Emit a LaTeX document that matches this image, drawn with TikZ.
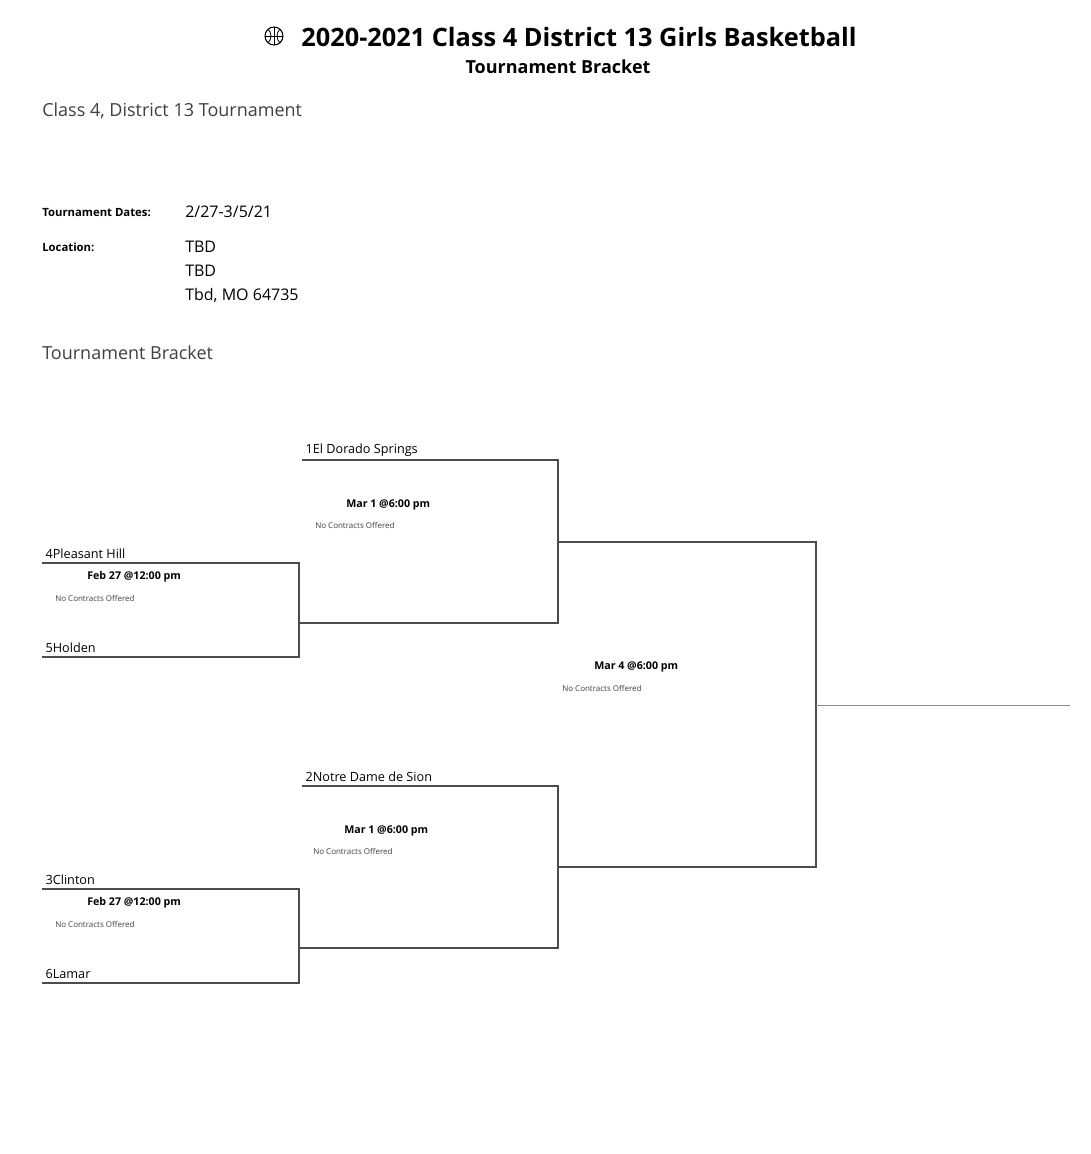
\documentclass[tikz,border=0pt]{standalone}
\usepackage{fontspec}
\setmainfont{Open Sans}
\begin{document}
\begin{tikzpicture}[x=0.75pt,y=-0.75pt,
  ln/.style={draw=black!70,line width=0.9pt},
  team/.style={anchor=south west,font=\fontsize{9.5}{10}\selectfont,inner sep=1pt},
  when/.style={anchor=west,font=\fontsize{8}{9}\selectfont\bfseries,inner sep=0pt},
  nc/.style={anchor=west,font=\fontsize{6}{7}\selectfont,text=black!75,inner sep=0pt},
  lab/.style={anchor=west,font=\fontsize{8.5}{10}\selectfont\bfseries,inner sep=0pt},
  val/.style={anchor=west,font=\fontsize{12}{13}\selectfont,inner sep=0pt},
  sec/.style={anchor=west,font=\fontsize{13.5}{15}\selectfont,text=black!75,inner sep=0pt}]
\useasboundingbox[fill=white] (0,0) rectangle (1090,1154);
% title
\node[font=\fontsize{19}{21}\selectfont\bfseries] (title) at (579,37) {2020-2021 Class 4 District 13 Girls Basketball};
\node[font=\fontsize{13.5}{15}\selectfont\bfseries] (sub) at (558,67) {Tournament Bracket};
\draw[line width=0.8pt] (274,36) circle (9);
\draw[line width=0.6pt] (265,36) -- (283,36) (274,27) -- (274,45);
\draw[line width=0.6pt] (268,29) .. controls (272,33) and (272,39) .. (268,43);
\draw[line width=0.6pt] (280,29) .. controls (276,33) and (276,39) .. (280,43);
\node[sec] (t1) at (42,111) {Class 4, District 13 Tournament};
\node[lab] (d1) at (42,213) {Tournament Dates:};
\node[val] (d2) at (185,212) {2/27-3/5/21};
\node[lab] (l1) at (42,247) {Location:};
\node[val] (l2) at (185,247) {TBD};
\node[val] (l3) at (185,271) {TBD};
\node[val] (l4) at (185,295) {Tbd, MO 64735};
\node[sec] (t2) at (42,353) {Tournament Bracket};
% coordinates
\coordinate (a1) at (42,563); \coordinate (a2) at (299,563);
\coordinate (b1) at (42,657); \coordinate (b2) at (299,657);
\coordinate (c1) at (299,623); \coordinate (c2) at (558,623);
\coordinate (e1) at (302,460); \coordinate (e2) at (558,460);
\coordinate (f1) at (558,542); \coordinate (f2) at (816,542);
\coordinate (g1) at (42,889); \coordinate (g2) at (299,889);
\coordinate (h1) at (42,983); \coordinate (h2) at (299,983);
\coordinate (i1) at (299,948); \coordinate (i2) at (558,948);
\coordinate (j1) at (302,786); \coordinate (j2) at (558,786);
\coordinate (k1) at (558,867); \coordinate (k2) at (816,867);
\coordinate (m1) at (816,705); \coordinate (m2) at (1070,705);
\draw[ln] (a1) -- (a2) -- (b2) -- (b1);
\draw[ln] (c1) -- (c2) -- (e2) -- (e1);
\draw[ln] (f1) -- (f2) -- (k2) -- (k1);
\draw[ln] (g1) -- (g2) -- (h2) -- (h1);
\draw[ln] (i1) -- (i2) -- (j2) -- (j1);
\draw[draw=black!45,line width=0.6pt] (m1) -- (m2);
% labels
\node[team] (n1) at (304,458) {1El Dorado Springs};
\node[team] (n4) at (44,560) {4Pleasant Hill};
\node[team] (n5) at (44,654) {5Holden};
\node[team] (n2) at (304,783) {2Notre Dame de Sion};
\node[team] (n3) at (44,886) {3Clinton};
\node[team] (n6) at (44,980) {6Lamar};
\node[when] (w1) at (346,505) {Mar 1 @6:00 pm};
\node[nc] (x1) at (315,525) {No Contracts Offered};
\node[when] (w2) at (87,577) {Feb 27 @12:00 pm};
\node[nc] (x2) at (55,598) {No Contracts Offered};
\node[when] (w3) at (594,667) {Mar 4 @6:00 pm};
\node[nc] (x3) at (562,688) {No Contracts Offered};
\node[when] (w4) at (344,831) {Mar 1 @6:00 pm};
\node[nc] (x4) at (313,851) {No Contracts Offered};
\node[when] (w5) at (87,903) {Feb 27 @12:00 pm};
\node[nc] (x5) at (55,924) {No Contracts Offered};
\end{tikzpicture}
\end{document}
